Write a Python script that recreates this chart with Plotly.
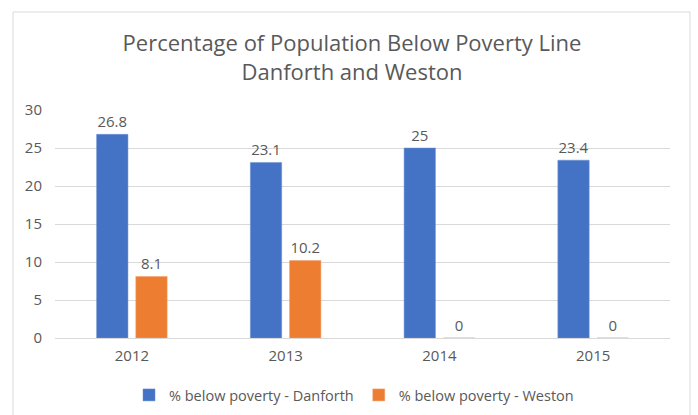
import plotly.graph_objects as go

years = ["2012", "2013", "2014", "2015"]
danforth = [26.8, 23.1, 25, 23.4]
weston = [8.1, 10.2, 0, 0]
series_names = ["% below poverty - Danforth", "% below poverty - Weston"]
title_text = "Percentage of Population Below Poverty Line<br>Danforth and Weston"

FONT = "Open Sans"
GREY = "#595959"

W, H = 698, 415
ml, mr, mt, mb = 55, 28, 110, 77
pw, ph = W - ml - mr, H - mt - mb

def px_to_paper_x(px):
    return (px - ml) / pw

def py_to_paper_y(py):
    return (H - mb - py) / ph

fig = go.Figure()
fig.add_trace(go.Bar(
    x=years, y=danforth, name=series_names[0],
    marker=dict(color="#4472C4", line=dict(color="#6f93d4", width=0.5)),
    text=[f"{v:g}" for v in danforth], textposition="outside",
    textfont=dict(family=FONT, size=15, color=GREY), cliponaxis=False,
))
fig.add_trace(go.Bar(
    x=years, y=weston, name=series_names[1],
    marker=dict(color="#ED7D31", line=dict(color="#f2a06f", width=0.5)),
    text=[f"{v:g}" for v in weston], textposition="outside",
    textfont=dict(family=FONT, size=15, color=GREY), cliponaxis=False,
))

fig.update_layout(
    width=W, height=H,
    margin=dict(l=ml, r=mr, t=mt, b=mb, autoexpand=False),
    paper_bgcolor="white", plot_bgcolor="white",
    barmode="group", bargap=0.49, bargroupgap=0.2,
    title=dict(text=title_text, x=352 / W, xref="container", xanchor="center",
               y=1 - 51 / H, yref="container", yanchor="middle",
               font=dict(family=FONT, size=22, color=GREY)),
    font=dict(family=FONT, color=GREY),
    showlegend=True,
    legend=dict(orientation="h", x=354 / W, xref="container", xanchor="center",
                y=1 - 395 / H, yref="container", yanchor="middle",
                font=dict(family=FONT, size=14.5, color=GREY),
                itemwidth=30, traceorder="normal"),
    xaxis=dict(showgrid=False, showline=True, linecolor="#d9d9d9", linewidth=1,
               ticks="", tickfont=dict(family=FONT, size=15, color=GREY),
               ticklabelstandoff=4),
    yaxis=dict(range=[0, 30], dtick=5, showgrid=True, gridcolor="#d9d9d9", gridwidth=1,
               zeroline=False, showline=False, ticks="",
               tickfont=dict(family=FONT, size=15, color=GREY), ticklabelstandoff=12),
    shapes=[dict(type="rect", xref="paper", yref="paper",
                 x0=px_to_paper_x(13), x1=px_to_paper_x(690),
                 y0=py_to_paper_y(430), y1=py_to_paper_y(12),
                 line=dict(color="#d9d9d9", width=1), fillcolor="rgba(0,0,0,0)",
                 layer="below")],
)

fig.write_html(
    "out.html",
    config={"displayModeBar": False},
    post_script="document.body.style.margin='0';document.body.style.overflow='hidden';",
)
